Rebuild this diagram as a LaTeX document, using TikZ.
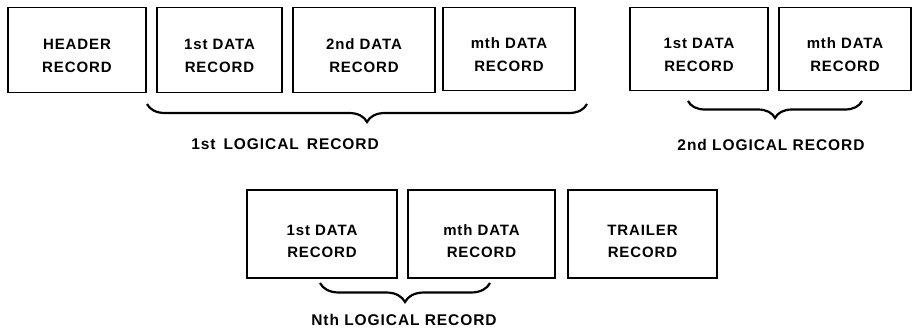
\documentclass[tikz,border=0pt]{standalone}
\usepackage{fontspec}
\setmainfont{Liberation Sans}[LetterSpace=6]
\usetikzlibrary{decorations.pathreplacing}
\begin{document}
\begin{tikzpicture}[x=1pt,y=-1pt,
  rec/.style={draw, line width=1.3pt, inner sep=0pt, align=center,
    font=\fontsize{15}{22.5}\selectfont\bfseries, text height=45pt},
  recb/.style={rec, text height=48pt},
  brc/.style={decorate, decoration={brace, mirror, amplitude=#1}, line width=2.2pt},
  lbl/.style={font=\fontsize{15.5}{18}\selectfont\bfseries, inner sep=0pt}]
\useasboundingbox (0,0) rectangle (915,327);
% top row
\node[rec, minimum width=138pt, minimum height=85pt] (hdr) at (77,50) {HEADER\\RECORD};
\node[rec, minimum width=125pt, minimum height=85pt] (d1) at (219.5,50) {1st DATA\\RECORD};
\node[rec, minimum width=142pt, minimum height=85pt] (d2) at (364,50) {2nd DATA\\RECORD};
\node[rec, minimum width=132pt, minimum height=83pt] (dm) at (509,49) {mth DATA\\RECORD};
\node[rec, minimum width=138pt, minimum height=83pt] (e1) at (699,49) {1st DATA\\RECORD};
\node[rec, minimum width=132pt, minimum height=83pt] (em) at (845,49) {mth DATA\\RECORD};
% bottom row
\node[recb, minimum width=150pt, minimum height=88pt] (n1) at (322,234) {1st DATA\\RECORD};
\node[recb, minimum width=147pt, minimum height=88pt] (nm) at (481.5,234) {mth DATA\\RECORD};
\node[recb, minimum width=149pt, minimum height=88pt] (tr) at (642.5,234) {TRAILER\\RECORD};
% braces
\coordinate (b1a) at (147,104);
\coordinate (b1b) at (587,104);
\coordinate (b2a) at (688,101);
\coordinate (b2b) at (862,101);
\coordinate (b3a) at (320,283);
\coordinate (b3b) at (490,283);
\draw[brc=18pt] (b1a) -- (b1b);
\draw[brc=17pt] (b2a) -- (b2b);
\draw[brc=19pt] (b3a) -- (b3b);
% labels
\node[lbl] (l1) at (285,144) {1st\hspace{8pt}LOGICAL\hspace{8pt}RECORD};
\node[lbl] (l2) at (771,145) {2nd LOGICAL RECORD};
\node[lbl] (l3) at (404,320) {Nth LOGICAL RECORD};
\end{tikzpicture}
\end{document}
